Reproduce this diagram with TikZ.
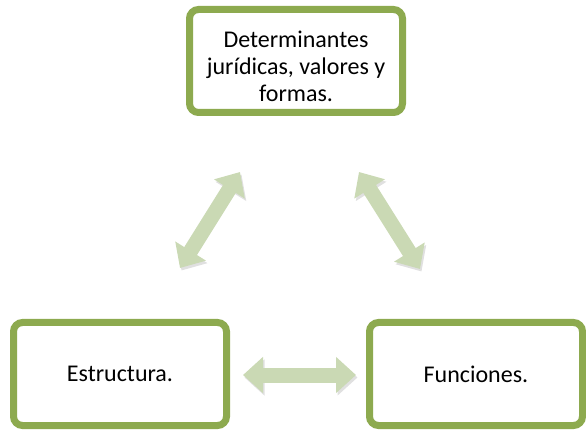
\documentclass[tikz,border=0pt]{standalone}
\usepackage{fontspec}
\setmainfont{Carlito}
\usetikzlibrary{arrows.meta,shadows}
\definecolor{boxgreen}{HTML}{8DAA4F}
\definecolor{arrowgreen}{HTML}{CAD9B4}
\begin{document}
\begin{tikzpicture}[x=1pt,y=-1pt,
		box/.style={draw=boxgreen,line width=7pt,rounded corners=9pt,fill=white,minimum width=213pt,minimum height=103pt,align=center,font=\fontsize{24}{27}\selectfont,drop shadow={opacity=.25,shadow xshift=1pt,shadow yshift=-3pt}},
		link/.style={draw=arrowgreen,line width=15pt,{Triangle[width=35pt,length=20pt]}-{Triangle[width=35pt,length=20pt]},preaction={draw=black!12,transform canvas={shift={(1.5pt,-2.5pt)}}}}]
		\useasboundingbox (0,0) rectangle (586,435);
		\node[box] (A) at (296,61) {\rule{0pt}{27pt}Determinantes\\jurídicas, valores y\\formas.};
		\node[box] (B) at (120,374) {Estructura.};
		\node[box] (C) at (476,374) {Funciones.};
		\coordinate (AB) at (240,172);
		\coordinate (BA) at (180,268);
		\coordinate (AC) at (359,172);
		\coordinate (CA) at (420,269);
		\coordinate (BC) at (243,375);
		\coordinate (CB) at (356,375);
		\draw[link] (BA) -- (AB);
		\draw[link] (AC) -- (CA);
		\draw[link] (BC) -- (CB);
	\end{tikzpicture}
\end{document}
